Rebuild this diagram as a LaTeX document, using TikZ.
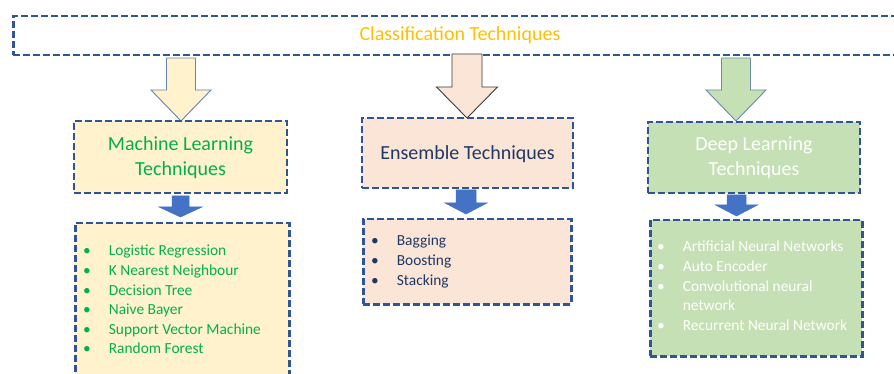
\documentclass[tikz,border=0pt]{standalone}
\usepackage{fontspec}
\setmainfont{Carlito}
\usepackage{array}

\definecolor{dashblue}{HTML}{2F5597}
\definecolor{gold}{HTML}{FFC000}
\definecolor{mlfill}{HTML}{FFF2CC}
\definecolor{mltext}{HTML}{00B050}
\definecolor{enfill}{HTML}{FBE5D6}
\definecolor{entext}{HTML}{203864}
\definecolor{dlfill}{HTML}{C5E0B4}
\definecolor{solidblue}{HTML}{4472C4}
\definecolor{mlrim}{HTML}{6683B5}
\definecolor{enrim}{HTML}{3C3C3C}
\definecolor{dlrim}{HTML}{6A89AC}

% down-pointing block arrow: style, x, top y, head y, tip y, shaft half width, head half width
\newcommand{\downblock}[7]{%
  \draw[#1] ({#2-#6},#3) -- ({#2+#6},#3) -- ({#2+#6},#4) -- ({#2+#7},#4)
    -- (#2,#5) -- ({#2-#7},#4) -- ({#2-#6},#4) -- cycle;}

\tikzset{
  dashbox/.style={draw=dashblue, line width=2.5pt, dash pattern=on 7pt off 3pt,
    rectangle, inner sep=0pt},
  headfont/.style={font=\fontsize{20}{25}\selectfont, align=center},
  listfont/.style={font=\fontsize{15.4}{19.6}\selectfont, anchor=north west, inner sep=0pt},
  hollow/.style={line width=0.9pt, line join=miter},
  solid arrow/.style={fill=solidblue, draw=solidblue, line width=0.5pt},
}

\newcommand{\itemlist}[1]{%
  \begin{tabular}{@{}l@{\hspace{18pt}}l@{}}#1\end{tabular}}

\begin{document}
\begin{tikzpicture}[x=1pt, y=-1pt]
  \clip (0,0) rectangle (894,374);
  \fill[white] (0,0) rectangle (894,374);

  % top banner
  \node[dashbox, minimum width=888pt, minimum height=39pt, anchor=north west]
    (top) at (12,15) {};
  \node[font=\fontsize{20}{24}\selectfont, text=gold] (title) at (460,35)
    {Classification Techniques};

  % hollow arrows from the banner
  \downblock{hollow, fill=mlfill, draw=mlrim}{181}{58}{90}{121}{14.5}{30}
  \downblock{hollow, fill=enfill, draw=enrim}{467}{54}{87}{118}{15}{30.5}
  \downblock{hollow, fill=dlfill, draw=dlrim}{736}{58}{90}{121}{14.5}{30}

  % category boxes
  \node[dashbox, fill=mlfill, minimum width=213pt, minimum height=72pt]
    (ml) at (180.5,157) {};
  \node[headfont, text=mltext] (mlt) at (180.5,157.5) {Machine Learning\\Techniques};

  \node[dashbox, fill=enfill, minimum width=211pt, minimum height=70pt]
    (en) at (467.5,153) {};
  \node[headfont, text=entext] (ent) at (467.5,154) {Ensemble Techniques};

  \node[dashbox, fill=dlfill, minimum width=212pt, minimum height=71pt]
    (dl) at (754,157.5) {};
  \node[headfont, text=white] (dlt) at (754,157.5) {Deep Learning\\Techniques};

  % small solid arrows
  \downblock{solid arrow}{180.5}{196}{207}{217}{8.5}{21.5}
  \downblock{solid arrow}{466}{190}{203}{214}{10}{21}
  \downblock{solid arrow}{736.5}{195}{205}{216}{9.5}{21}

  % list boxes
  \node[dashbox, fill=mlfill, minimum width=214pt, minimum height=170pt, anchor=north west]
    (mll) at (74,222) {};
  \node[listfont, text=mltext] (mllt) at (83,242)
    {\itemlist{\textbullet & Logistic Regression\\
               \textbullet & K Nearest Neighbour\\
               \textbullet & Decision Tree\\
               \textbullet & Naive Bayer\\
               \textbullet & Support Vector Machine\\
               \textbullet & Random Forest}};

  \node[dashbox, fill=enfill, minimum width=208pt, minimum height=85pt, anchor=north west]
    (enl) at (362,218) {};
  \node[listfont, text=entext] (enlt) at (371,232)
    {\itemlist{\textbullet & Bagging\\
               \textbullet & Boosting\\
               \textbullet & Stacking}};

  \node[dashbox, fill=dlfill, minimum width=212pt, minimum height=136pt, anchor=north west]
    (dll) at (649,219) {};
  \node[listfont, text=white] (dllt) at (657,238)
    {\itemlist{\textbullet & Artificial Neural Networks\\
               \textbullet & Auto Encoder\\
               \textbullet & Convolutional neural\\
                           & network\\
               \textbullet & Recurrent Neural Network}};
\end{tikzpicture}
\end{document}
